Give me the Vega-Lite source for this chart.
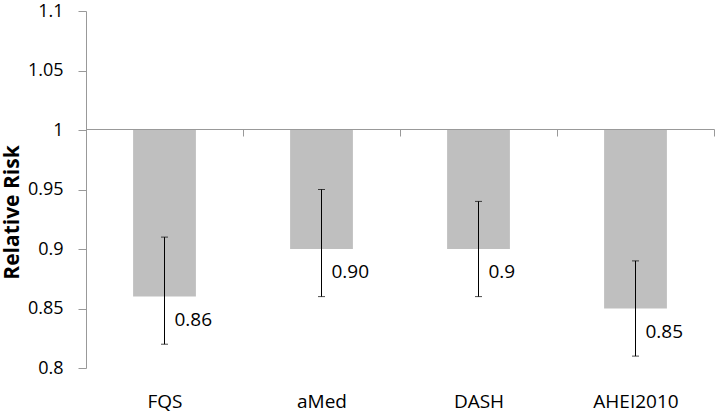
{
  "$schema": "https://vega.github.io/schema/vega-lite/v6.json",
  "autosize": "none",
  "width": 628,
  "height": 357,
  "padding": {"left": 86, "top": 11, "right": 3, "bottom": 46},
  "background": "white",
  "config": {
    "view": {"stroke": null},
    "font": "Open Sans"
  },
  "data": {
    "values": [
      {"diet": "FQS", "rr": 0.86, "lo": 0.82, "hi": 0.91, "label": "0.86"},
      {"diet": "aMed", "rr": 0.90, "lo": 0.86, "hi": 0.95, "label": "0.90"},
      {"diet": "DASH", "rr": 0.90, "lo": 0.86, "hi": 0.94, "label": "0.9"},
      {"diet": "AHEI2010", "rr": 0.85, "lo": 0.81, "hi": 0.89, "label": "0.85"}
    ]
  },
  "encoding": {
    "x": {
      "field": "diet", "type": "nominal", "sort": null,
      "scale": {"paddingInner": 0, "paddingOuter": 0},
      "axis": {
        "orient": "bottom", "title": null, "offset": -239,
        "domain": true, "domainColor": "#999999",
        "ticks": true, "tickColor": "#999999", "tickSize": 7, "tickBand": "extent",
        "labelAngle": 0, "labelFontSize": 19, "labelColor": "#000000",
        "labelPadding": 256, "labelFont": "Open Sans"
      }
    }
  },
  "layer": [
    {
      "mark": {"type": "bar", "color": "#bfbfbf", "width": {"band": 0.4}},
      "encoding": {
        "y": {
          "field": "rr", "type": "quantitative",
          "scale": {"domain": [0.8, 1.1], "nice": false, "zero": false},
          "axis": {
            "title": "Relative Risk", "titleFontSize": 21, "titleFontWeight": "bold",
            "titleColor": "#000000", "titleFont": "Open Sans",
            "titleX": -74, "titleY": 201, "titleAngle": 270,
            "titleAlign": "center", "titleBaseline": "middle",
            "values": [0.8, 0.85, 0.9, 0.95, 1, 1.05, 1.1],
            "format": "~g", "labelFontSize": 18, "labelColor": "#000000",
            "labelPadding": 15, "labelFont": "Open Sans",
            "grid": false, "domainColor": "#999999", "tickColor": "#999999",
            "tickSize": 8
          }
        },
        "y2": {"datum": 1}
      }
    },
    {
      "mark": {"type": "rule", "color": "#000000", "strokeWidth": 1},
      "encoding": {
        "y": {"field": "lo", "type": "quantitative"},
        "y2": {"field": "hi"}
      }
    },
    {
      "mark": {"type": "tick", "color": "#000000", "orient": "horizontal", "size": 7, "thickness": 1},
      "encoding": {
        "y": {"field": "lo", "type": "quantitative"}
      }
    },
    {
      "mark": {"type": "tick", "color": "#000000", "orient": "horizontal", "size": 7, "thickness": 1},
      "encoding": {
        "y": {"field": "hi", "type": "quantitative"}
      }
    },
    {
      "mark": {"type": "text", "align": "left", "baseline": "middle", "dx": 10, "dy": 23, "fontSize": 19, "color": "#000000", "font": "Open Sans"},
      "encoding": {
        "y": {"field": "rr", "type": "quantitative"},
        "text": {"field": "label"}
      }
    }
  ]
}
